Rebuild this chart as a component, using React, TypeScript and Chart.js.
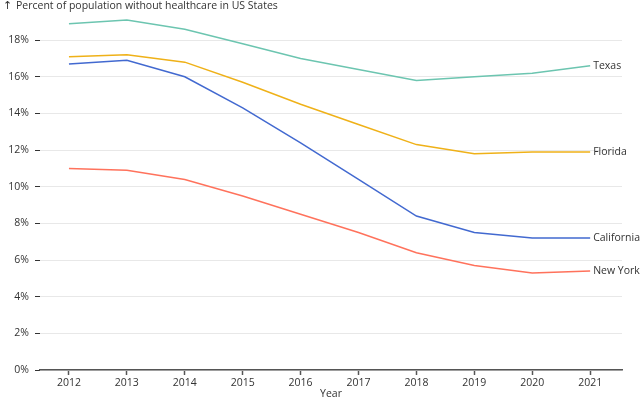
import React, { useEffect, useRef } from "react";
import { Chart, registerables } from "chart.js";

Chart.register(...registerables);

const years = [2012, 2013, 2014, 2015, 2016, 2017, 2018, 2019, 2020, 2021];
const states = ["California", "Florida", "New York", "Texas"];
const california = [16.7, 16.9, 16.0, 14.3, 12.4, 10.4, 8.4, 7.5, 7.2, 7.2];
const florida = [17.1, 17.2, 16.8, 15.7, 14.5, 13.4, 12.3, 11.8, 11.9, 11.9];
const newYork = [11.0, 10.9, 10.4, 9.5, 8.5, 7.5, 6.4, 5.7, 5.3, 5.4];
const texas = [18.9, 19.1, 18.6, 17.8, 17.0, 16.4, 15.8, 16.0, 16.2, 16.6];
const seriesValues = [california, florida, newYork, texas];
const colors = ["#4269d0", "#efb118", "#ff725c", "#6cc5b0"];
const yTicks = [0, 2, 4, 6, 8, 10, 12, 14, 16, 18];
const titleArrow = "↑";
const titleText = "Percent of population without healthcare in US States";
const xTitle = "Year";

const FONT = "'Open Sans', sans-serif";
const FS = 10.5;

export default function App() {
  const ref = useRef<HTMLCanvasElement | null>(null);
  useEffect(() => {
    document.body.style.margin = "0";
    const canvas = ref.current;
    if (!canvas) return;
    const endLabels = {
      id: "endLabels",
      afterDatasetsDraw(chart: any) {
        const ctx = chart.ctx;
        ctx.save();
        ctx.font = `${FS}px ${FONT}`;
        ctx.fillStyle = "#333";
        ctx.textAlign = "left";
        ctx.textBaseline = "middle";
        chart.data.datasets.forEach((ds: any, i: number) => {
          const meta = chart.getDatasetMeta(i);
          const pt = meta.data[meta.data.length - 1];
          if (pt) ctx.fillText(ds.label, pt.x + 3, pt.y);
        });
        ctx.restore();
      },
      afterDraw(chart: any) {
        const ctx = chart.ctx;
        ctx.save();
        ctx.fillStyle = "#333";
        ctx.textAlign = "left";
        ctx.textBaseline = "middle";
        ctx.font = `11px 'DejaVu Sans', sans-serif`;
        ctx.fillText(titleArrow, 3, 6);
        ctx.font = `${FS}px ${FONT}`;
        ctx.fillText(titleText, 16, 6);
        ctx.restore();
      },
    };
    const chart = new Chart(canvas, {
      type: "line",
      data: {
        datasets: states.map((s, i) => ({
          label: s,
          data: years.map((y, j) => ({ x: y, y: seriesValues[i][j] })),
          borderColor: colors[i],
          backgroundColor: colors[i],
          borderWidth: 1.5,
          pointRadius: 0,
          tension: 0,
          clip: false as any,
        })),
      },
      options: {
        animation: false,
        responsive: false,
        maintainAspectRatio: false,
        layout: { padding: { top: 20, right: 18, left: 0, bottom: 0 } },
        plugins: { legend: { display: false }, tooltip: { enabled: false } },
        scales: {
          x: {
            type: "linear",
            min: 2011.5,
            max: 2021.55,
            afterBuildTicks: (scale: any) => {
              scale.ticks = years.map((v) => ({ value: v }));
            },
            afterFit: (scale: any) => {
              scale.height = 30;
            },
            grid: {
              drawOnChartArea: false,
              drawTicks: true,
              tickLength: 5,
              tickColor: "#555",
              tickWidth: 1.5,
            },
            border: { display: true, color: "#555", width: 1.5 },
            ticks: {
              padding: 2,
              color: "#333",
              font: { family: FONT, size: FS },
              callback: (v: any) => String(v),
              maxRotation: 0,
            },
            title: {
              display: true,
              text: xTitle,
              color: "#333",
              font: { family: FONT, size: FS },
              padding: 0,
            },
          },
          y: {
            type: "linear",
            min: 0,
            max: 19.1,
            afterBuildTicks: (scale: any) => {
              scale.ticks = yTicks.map((v) => ({ value: v }));
            },
            afterFit: (scale: any) => {
              scale.width = 40;
            },
            grid: {
              color: "#e8e8e8",
              tickColor: "#333",
              tickLength: 5,
              lineWidth: 1,
            },
            border: { display: false },
            ticks: {
              padding: 6,
              color: "#333",
              font: { family: FONT, size: FS },
              callback: (v: any) => `${v}%`,
            },
          },
        },
      },
      plugins: [endLabels],
    });
    return () => chart.destroy();
  }, []);
  return <canvas ref={ref} width={640} height={400} style={{ display: "block", width: 640, height: 400 }} />;
}
